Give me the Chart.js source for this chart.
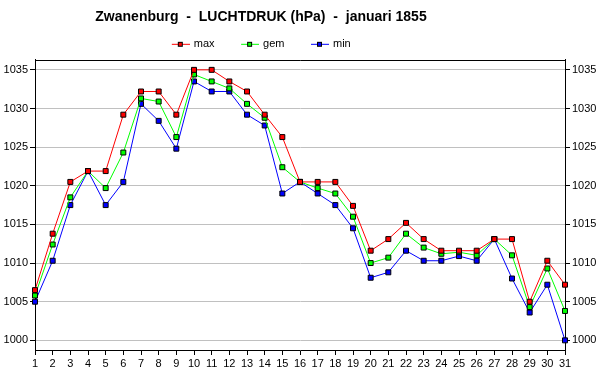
<!DOCTYPE html>
<html><head><meta charset="utf-8">
<script src="https://cdn.jsdelivr.net/npm/chart.js@4.4.1/dist/chart.umd.min.js"></script>
<style>html,body{margin:0;padding:0;background:#fff}canvas{display:block}</style>
</head><body>
<canvas id="c" width="600" height="390"></canvas>
<script>
const titleText = 'Zwanenburg  -  LUCHTDRUK (hPa)  -  januari 1855';
const days = ['1','2','3','4','5','6','7','8','9','10','11','12','13','14','15','16','17','18','19','20','21','22','23','24','25','26','27','28','29','30','31'];
const maxValues = [1006.5, 1013.8, 1020.5, 1021.9, 1021.9, 1029.2, 1032.2, 1032.2, 1029.2, 1035.0, 1035.0, 1033.5, 1032.2, 1029.2, 1026.3, 1020.5, 1020.5, 1020.5, 1017.4, 1011.6, 1013.1, 1015.2, 1013.1, 1011.6, 1011.6, 1011.6, 1013.1, 1013.1, 1005.0, 1010.3, 1007.2];
const gemValues = [1005.8, 1012.4, 1018.5, 1021.9, 1019.7, 1024.3, 1031.3, 1030.9, 1026.3, 1034.4, 1033.5, 1032.6, 1030.6, 1028.8, 1022.4, 1020.5, 1019.7, 1019.0, 1016.0, 1010.0, 1010.7, 1013.8, 1012.0, 1011.2, 1011.4, 1011.0, 1013.1, 1011.0, 1004.3, 1009.3, 1003.8];
const minValues = [1005.0, 1010.3, 1017.5, 1021.9, 1017.5, 1020.5, 1030.6, 1028.4, 1024.8, 1033.5, 1032.2, 1032.2, 1029.2, 1027.8, 1019.0, 1020.5, 1019.0, 1017.5, 1014.5, 1008.1, 1008.8, 1011.6, 1010.3, 1010.3, 1010.9, 1010.3, 1013.1, 1008.0, 1003.6, 1007.2, 1000.0];
const yTickValues = [1000, 1005, 1010, 1015, 1020, 1025, 1030, 1035];
const seriesNames = ['max', 'gem', 'min'];
const seriesColors = ['#ff0000', '#00ff00', '#0000ff'];

function legendImage(color) {
  const c = document.createElement('canvas');
  c.width = 36; c.height = 7;
  const g = c.getContext('2d');
  g.fillStyle = color;
  g.fillRect(18, 3, 18, 1);
  g.fillStyle = '#000';
  g.fillRect(24, 1, 5, 5);
  g.fillStyle = color;
  g.fillRect(25, 2, 3, 3);
  return c;
}

const frame = {
  id: 'frame',
  beforeDatasetsDraw(chart) {
    const {ctx, chartArea: a} = chart;
    ctx.save();
    ctx.strokeStyle = '#000';
    ctx.lineWidth = 1;
    ctx.beginPath();
    const y = Math.round(a.top) + 0.5;
    ctx.moveTo(a.left, y);
    ctx.lineTo(a.right + 0.5, y);
    ctx.stroke();
    ctx.restore();
  }
};
const shiftBlocks = {
  id: 'shiftBlocks',
  afterLayout(chart) {
    const t = chart.titleBlock;
    if (t) { t.left -= 39; t.right -= 39; }
    const l = chart.legend;
    if (l) { l.left -= 47; l.right -= 47; }
  }
};

const tickFont = {family: 'Arial, "Liberation Sans", sans-serif', size: 11};
const yCommon = {
  min: 998.75,
  max: 1036.3,
  afterBuildTicks(s) { s.ticks = yTickValues.map(v => ({value: v})); },
  border: {display: true, color: '#000', width: 1},
  ticks: {color: '#000', font: tickFont, padding: 2, callback: v => String(v)},
  afterFit(s) { s.width = 35; }
};

new Chart(document.getElementById('c'), {
  type: 'line',
  data: {
    labels: days,
    datasets: [maxValues, gemValues, minValues].map((vals, i) => ({
      label: seriesNames[i],
      data: vals,
      borderColor: seriesColors[i],
      backgroundColor: seriesColors[i],
      borderWidth: 1,
      tension: 0,
      fill: false,
      pointStyle: 'rect',
      pointRadius: 3.5,
      pointHoverRadius: 3.5,
      pointBorderWidth: 1,
      pointBorderColor: '#000',
      pointBackgroundColor: seriesColors[i],
      yAxisID: 'y'
    }))
  },
  options: {
    responsive: false,
    animation: false,
    devicePixelRatio: 1,
    layout: {padding: 0},
    plugins: {
      title: {
        display: true,
        text: titleText,
        color: '#000',
        font: {family: 'Arial, "Liberation Sans", sans-serif', size: 14, weight: 'bold'},
        padding: {top: 9, bottom: 3}
      },
      legend: {
        display: true,
        maxHeight: 31,
        labels: {
          color: '#000',
          font: tickFont,
          usePointStyle: true,
          pointStyleWidth: 33,
          padding: 10,
          generateLabels(chart) {
            return seriesNames.map((n, i) => ({
              text: n,
              pointStyle: legendImage(seriesColors[i]),
              fillStyle: seriesColors[i],
              strokeStyle: seriesColors[i],
              lineWidth: 0,
              hidden: false,
              datasetIndex: i,
              fontColor: '#000'
            }));
          }
        }
      },
      tooltip: {enabled: false}
    },
    scales: {
      x: {
        type: 'category',
        offset: false,
        grid: {display: true, drawOnChartArea: false, drawTicks: true, tickLength: 5, tickColor: '#000'},
        border: {display: true, color: '#000', width: 1},
        ticks: {color: '#000', font: tickFont, padding: 2, autoSkip: false, maxRotation: 0, minRotation: 0},
        afterFit(s) { s.height = 40; }
      },
      y: Object.assign({}, yCommon, {
        position: 'left',
        grid: {display: true, color: '#c0c0c0', lineWidth: 1, drawTicks: true, tickLength: 5, tickColor: '#000'}
      }),
      y2: Object.assign({}, yCommon, {
        position: 'right',
        grid: {display: true, drawOnChartArea: false, drawTicks: true, tickLength: 5, tickColor: '#000'}
      })
    }
  },
  plugins: [frame, shiftBlocks]
});
</script>
</body></html>
